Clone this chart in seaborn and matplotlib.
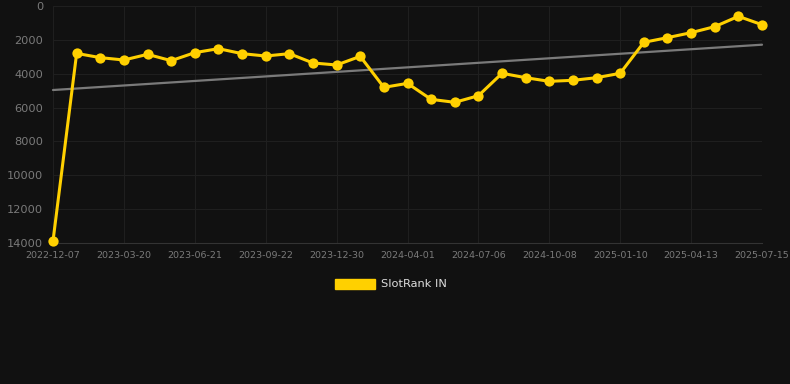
import numpy as np
import pandas as pd
import matplotlib
matplotlib.use("Agg")
import matplotlib.pyplot as plt
import seaborn as sns
from matplotlib.patches import Patch

# ---- data ----
tick_labels = ["2022-12-07", "2023-03-20", "2023-06-21", "2023-09-22", "2023-12-30",
               "2024-04-01", "2024-07-06", "2024-10-08", "2025-01-10", "2025-04-13",
               "2025-07-15"]
rank_values = [13880, 2800, 3050, 3190, 2855, 3230, 2755, 2520, 2815, 2955, 2815,
               3365, 3485, 2975, 4805, 4570, 5515, 5690, 5300, 3975, 4235, 4450,
               4390, 4235, 3975, 2145, 1870, 1575, 1220, 610, 1105]
series_name = "SlotRank IN"
y_ticks = [0, 2000, 4000, 6000, 8000, 10000, 12000, 14000]

df = pd.DataFrame({"idx": np.arange(len(rank_values)), "rank": rank_values})

BG = "#111111"
YELLOW = "#FFD000"

sns.set_theme(style="dark")
fig = plt.figure(figsize=(7.9, 3.84), dpi=100, facecolor=BG)
ax = fig.add_axes([53/790, 1-243/384, (762-53)/790, (243-6)/384])
ax.set_facecolor(BG)

# trend line (linear fit)
sns.regplot(data=df, x="idx", y="rank", scatter=False, ci=None, truncate=True,
            line_kws=dict(color="#7a7a7a", lw=1.6, zorder=2), ax=ax)

sns.lineplot(data=df, x="idx", y="rank", color=YELLOW, lw=2.2, marker="o",
             markersize=7.4, markeredgewidth=0, ax=ax, zorder=3)
for l in ax.lines:
    l.set_clip_on(False)

ax.set_xlim(0, len(rank_values) - 1)
ax.set_ylim(14000, 0)
ax.set_yticks(y_ticks)
ax.set_yticklabels([str(t) for t in y_ticks])
ax.set_xticks(np.arange(0, len(rank_values), 3))
ax.set_xticklabels(tick_labels)
ax.set_xlabel("")
ax.set_ylabel("")

ax.grid(True, color="#1f1f1f", lw=0.8)
ax.set_axisbelow(True)
for s in ["top", "right", "left"]:
    ax.spines[s].set_visible(False)
ax.spines["bottom"].set_color("#333333")
ax.spines["bottom"].set_linewidth(0.8)

ax.tick_params(axis="y", colors="#7a7a7a", labelsize=8.2, length=0, pad=7)
ax.tick_params(axis="x", colors="#7a7a7a", labelsize=6.8, length=0, pad=6)

handle = Patch(facecolor=YELLOW, edgecolor=YELLOW)
fig.legend([handle], [series_name], loc="center", bbox_to_anchor=(391/790, 1-284/384),
           frameon=False, fontsize=8.2, labelcolor="#dddddd",
           handlelength=3.5, handleheight=1.0, handletextpad=0.5)

fig.savefig("out.png", dpi=100, facecolor=BG)
